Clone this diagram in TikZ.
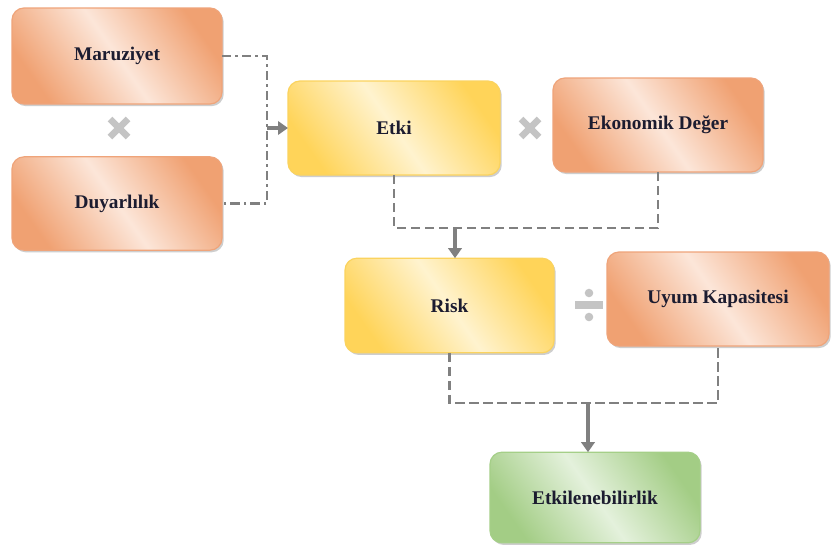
\documentclass[tikz,border=0pt]{standalone}
\usepackage{fontspec}
\setmainfont{Liberation Serif}
\usetikzlibrary{arrows.meta,shadows}

\definecolor{orDeep}{HTML}{F0A172}
\definecolor{orLight}{HTML}{FCE6D9}
\definecolor{orLine}{HTML}{EFA47A}
\definecolor{yeDeep}{HTML}{FFD459}
\definecolor{yeLight}{HTML}{FFF3CF}
\definecolor{yeLine}{HTML}{FBD35E}
\definecolor{grDeep}{HTML}{A3CD85}
\definecolor{grLight}{HTML}{E4F1DC}
\definecolor{grLine}{HTML}{A5CF88}
\definecolor{link}{HTML}{808080}
\definecolor{opsign}{HTML}{C4C4C4}
\definecolor{ink}{HTML}{1C1C30}

\tikzset{
  card/.style={rectangle, rounded corners=9pt, inner sep=0pt, outer sep=0pt,
    line width=0.9pt, font=\fontsize{14.5}{17}\selectfont\bfseries, text=ink,
    drop shadow={shadow xshift=1.3pt, shadow yshift=-1.6pt, opacity=0.35, fill=black!55}},
  % top and bottom first, then middle (top/bottom color reset the middle one)
  orange/.style={card, draw=orLine, top color=orDeep, bottom color=orDeep, middle color=orLight, shading angle=-55},
  yellow/.style={card, draw=yeLine, top color=yeDeep, bottom color=yeDeep, middle color=yeLight, shading angle=-55},
  green/.style={card, draw=grLine, top color=grDeep, bottom color=grDeep, middle color=grLight, shading angle=-55},
  dashlink/.style={draw=link, line width=2pt, dash pattern=on 7pt off 3.5pt},
  dotlink/.style={draw=link, line width=2pt, dash pattern=on 7pt off 3pt on 2pt off 3pt},
  flow/.style={draw=link, line width=2.6pt, -{Triangle[length=7.5pt,width=10pt]}},
  opmark/.style={draw=opsign, line width=5pt},
}

\begin{document}
\begin{tikzpicture}[x=0.75pt, y=-0.75pt]
  \useasboundingbox[fill=white] (0,0) rectangle (831,546);

  % boxes
  \node[orange, minimum width=157.5pt, minimum height=72pt]   (mar) at (117,56)    {Maruziyet};
  \node[orange, minimum width=157.5pt, minimum height=70pt]   (duy) at (117,203.5) {Duyarlılık};
  \node[yellow, minimum width=159pt,   minimum height=70.5pt] (etki) at (394,128)  {Etki};
  \node[orange, minimum width=157.5pt, minimum height=70.5pt] (eko) at (658,125)   {Ekonomik Değer};
  \node[yellow, minimum width=156.75pt,minimum height=71pt]   (risk) at (449.5,305.5) {Risk};
  \node[orange, minimum width=166.5pt, minimum height=70.5pt] (uyum) at (718,299)  {Uyum Kapasitesi};
  \node[green,  minimum width=157.5pt, minimum height=68pt]   (etk) at (595,497.5) {Etkilenebilirlik};

  % operator signs
  \draw[opmark] (110,119) -- (128,137) (110,137) -- (128,119);
  \draw[opmark] (521,119) -- (539,137) (521,137) -- (539,119);
  \draw[draw=opsign, line width=5.5pt] (575,305) -- (603,305);
  \fill[opsign] (589,293) circle (3.2pt) (589,317) circle (3.2pt);

  % junction points of the connectors
  \coordinate (j1) at (267,128);
  \coordinate (j2) at (455,228);
  \coordinate (j3) at (588,403);

  % connectors
  \draw[dotlink] (mar.east) -| (j1) |- (duy.east);
  \draw[flow] (j1) -- (etki.west);

  \draw[dashlink] (etki.south) |- (j2) -| (eko.south);
  \draw[flow] (j2) -- (j2 |- risk.north);

  \draw[dashlink] (risk.south) |- (j3) -| (uyum.south);
  \draw[flow] (j3) -- (j3 |- etk.north);
\end{tikzpicture}
\end{document}
